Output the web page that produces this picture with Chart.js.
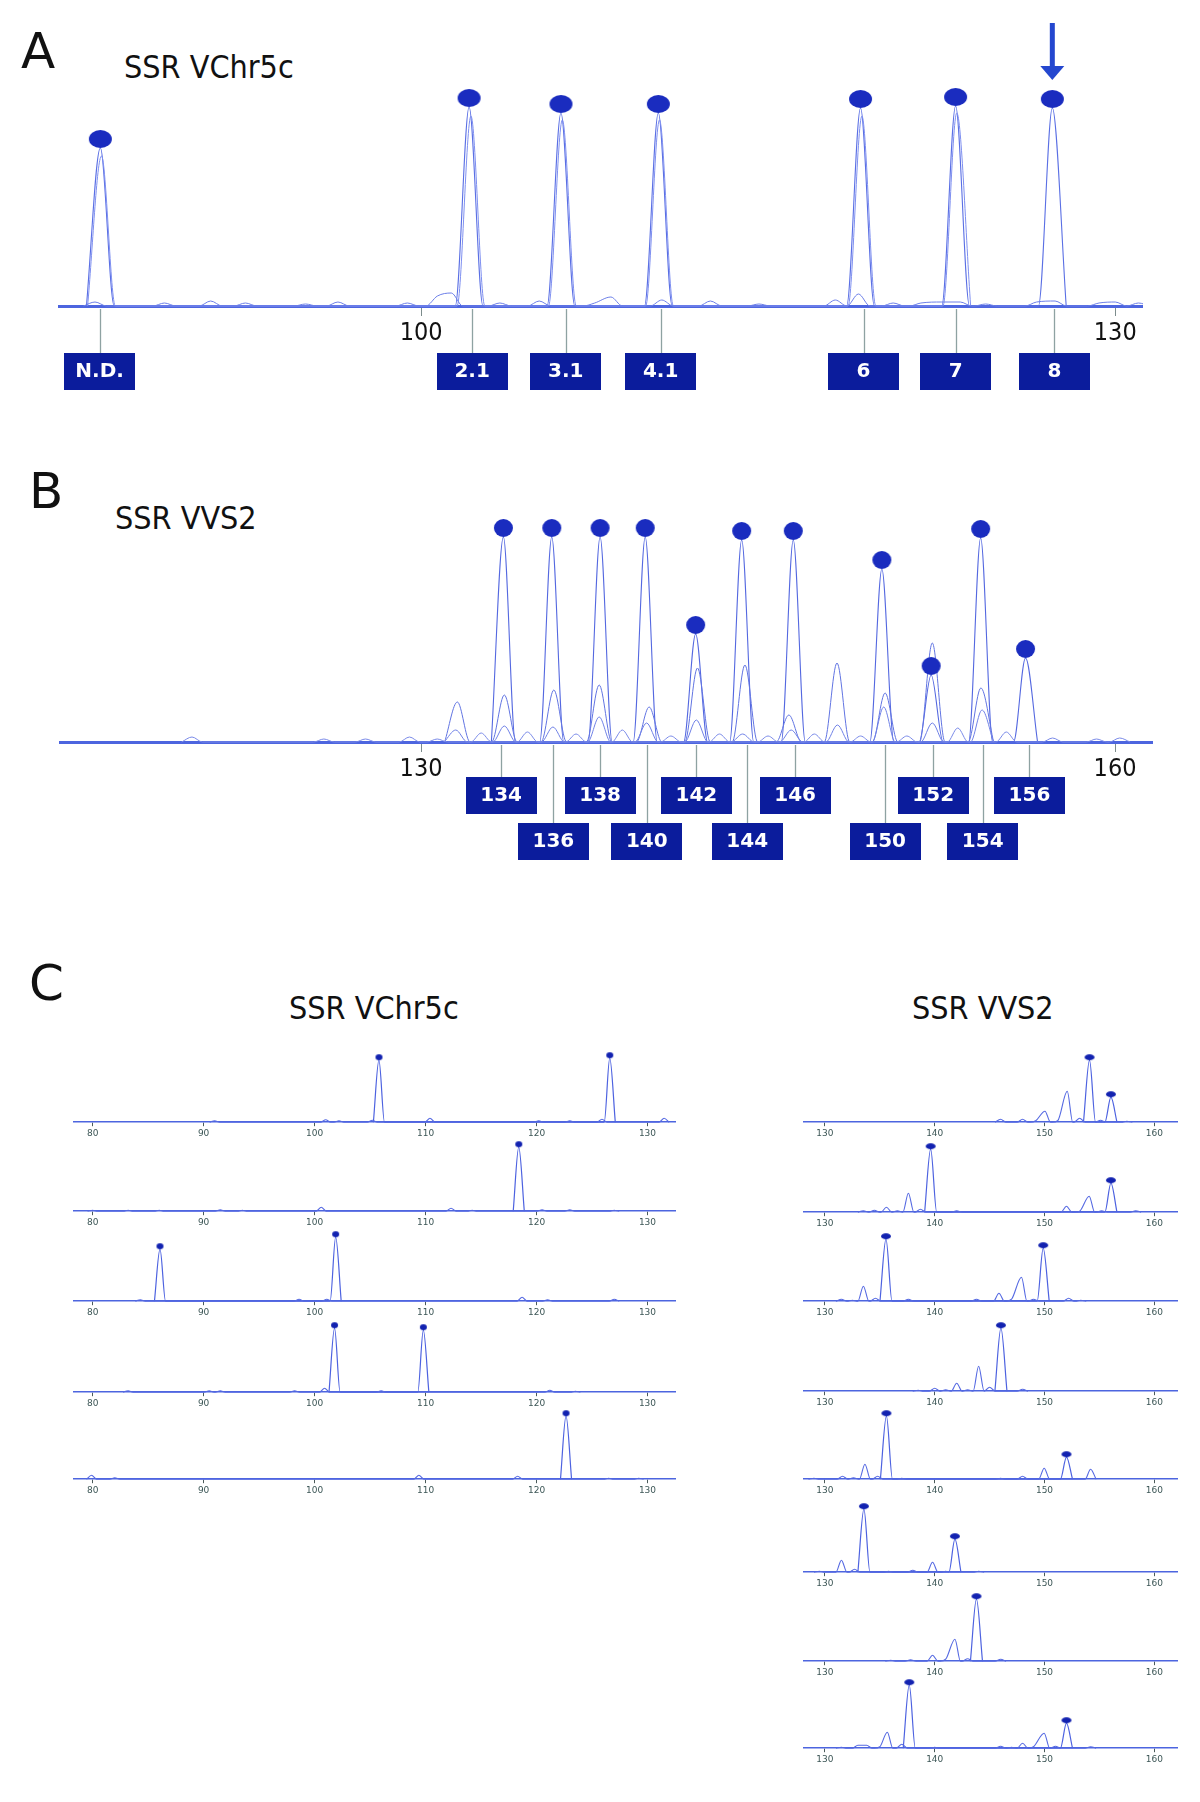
<!DOCTYPE html>
<html><head><meta charset="utf-8">
<script src="https://cdn.jsdelivr.net/npm/chart.js@4.4.0/dist/chart.umd.min.js"></script>
<style>
html,body{margin:0;padding:0;background:#fff;}
body{width:1200px;height:1802px;position:relative;overflow:hidden;}
.t{position:absolute;white-space:nowrap;line-height:1;color:#111;}
.letter{font-family:"DejaVu Sans",sans-serif;font-size:50px;}
.title{font-family:"DejaVu Sans Condensed","DejaVu Sans",sans-serif;font-size:32px;}
</style></head>
<body>
<div class="t letter" style="left:21px;top:26px">A</div>
<div class="t title" style="left:124px;top:51px">SSR VChr5c</div>
<div class="t letter" style="left:29px;top:466px">B</div>
<div class="t title" style="left:115px;top:502px">SSR VVS2</div>
<div class="t letter" style="left:29px;top:958px">C</div>
<div class="t title" style="left:289px;top:992px">SSR VChr5c</div>
<div class="t title" style="left:912px;top:992px">SSR VVS2</div>
<script>
// ---------------- DATA ----------------
// Panel A (SSR VChr5c overlay): [size bp, peak height]
const xRangeA = [84.3, 131.2];
const ticksA = [100, 130];
const labelsA = ['N.D.', '2.1', '3.1', '4.1', '6', '7', '8'];
const binsA = [86.1, 102.2, 106.25, 110.35, 119.12, 123.1, 127.37];
const peaksA_main = [[86.13,158],[102.07,199],[106.04,193],[110.25,193],[118.99,198],[123.1,200],[127.28,198]];
const peaksA_rep = [[86.18,150],[102.15,190],[106.1,186],[110.3,186],[119.05,190],[123.15,193]];
const peaksA_minor = [[85.9,4],[88.9,3],[90.9,5],[92.4,3],[95,2],[96.4,4],[99.4,3],[100.7,10],[101.3,13],[103.4,3],[105.1,5],[107.5,3],[108.2,9],[110.4,6],[112.5,5],[114.6,2],[117.9,6],[118.9,12],[120.4,3],[121.6,3],[122.5,4],[123.3,4],[124.4,2],[126.6,4],[127.4,5],[129.3,3],[130.0,4],[131.0,3]];
const arrowAllele = '8';

// Panel B (SSR VVS2 overlay)
const xRangeB = [114.35, 161.64];
const ticksB = [130, 160];
const labelsB = ['134','136','138','140','142','144','146','150','152','154','156'];
const binsB = [133.46, 135.72, 137.74, 139.76, 141.9, 144.1, 146.17, 150.06, 152.14, 154.28, 156.3];
const peaksB_main = [[133.56,205],[135.65,205],[137.74,205],[139.69,205],[141.87,108],[143.86,202],[146.09,202],[149.92,173],[152.05,67],[154.19,204],[156.13,84]];
const peaksB_sec = [[131.57,40],[133.6,47],[135.74,52],[137.7,57],[139.86,35],[141.95,74],[144.0,77],[145.9,27],[147.98,79],[150.06,49],[152.1,99],[154.2,54]];
const peaksB_ter = [[131.5,12],[133.6,16],[135.7,15],[137.7,25],[139.75,19],[141.9,22],[143.9,8],[146.0,12],[148.0,17],[150.0,35],[152.1,19],[154.25,32]];
const peaksB_noise = [[120.1,5],[125.8,3],[127.6,3],[129.5,5],[130.7,3],[132.6,9],[134.6,10],[136.7,8],[138.7,12],[140.8,6],[142.9,8],[145.0,6],[147.0,8],[149.0,6],[151.0,6],[153.2,14],[155.3,10],[157.3,4],[159.2,3],[160.2,4]];

// Panel C, left column (SSR VChr5c, 5 samples)
const xRangeCL = [78.23, 132.57];
const ticksCL = [80, 90, 100, 110, 120, 130];
const cL1_main = [[105.8,62],[126.6,64]];
const cL1_minor = [[91,1.5],[101,2.5],[102.2,1.5],[105.2,2],[110.4,4],[120.2,1.5],[123,1.5],[125.9,3],[131.5,4]];
const cL2_main = [[118.4,64]];
const cL2_minor = [[80,1],[83.2,1],[86,1],[91.5,1.5],[93.5,1],[100.6,4],[112.3,3],[114.2,1],[120.5,1.5],[123,1.5],[127,1]];
const cL3_main = [[86.07,52],[101.9,64]];
const cL3_minor = [[84.3,1.5],[98.6,2],[101.1,2],[118.7,4],[121,1.5],[127,2]];
const cL4_main = [[101.8,64],[109.8,62]];
const cL4_minor = [[83.2,1.5],[90.5,1.5],[91.5,1.5],[98.2,1.5],[100.9,4],[106,1.5],[121.2,2],[123.5,1]];
const cL5_main = [[122.66,63]];
const cL5_minor = [[79.9,4],[82,1.5],[109.4,4],[118.3,3],[126.5,1],[129.2,1]];

// Panel C, right column (SSR VVS2, 8 samples)
const xRangeCR = [128.0, 162.16];
const ticksCR = [130, 140, 150, 160];
const cR1_main = [[154.1,62],[156.05,25]];
const cR1_minor = [[146,3],[148,3],[149.2,1.5],[150.04,11],[151.2,1.5],[152.07,31],[153.2,4],[155.1,2],[157.5,1]];
const cR2_main = [[139.63,63],[156.05,29]];
const cR2_minor = [[133.5,1.5],[134.5,2],[135.6,5],[136.6,1.5],[137.6,19],[138.7,3],[142,1.5],[152.0,6],[153.2,1],[154.07,16],[155.2,1.5],[158.3,1.5]];
const cR3_main = [[135.56,62],[149.88,53]];
const cR3_minor = [[131.5,2],[132.5,1],[133.5,15],[134.6,3],[137.6,2],[143.8,2],[145.85,8],[147,2],[147.9,24],[149,2],[152.2,3],[153.3,1]];
const cR4_main = [[146.03,63]];
const cR4_minor = [[138.5,1],[140,3],[141,1.5],[142,8],[143,1.5],[144,25],[145,4],[148,2]];
const cR5_main = [[135.6,63],[152.0,22]];
const cR5_minor = [[129,1],[131.6,3],[132.6,1.5],[133.64,15],[134.8,3],[137,1],[146,1],[148,3],[149.97,11],[154.2,10]];
const cR6_main = [[133.55,63],[141.84,33]];
const cR6_minor = [[129.5,1],[131.5,12],[132.7,3],[135.8,1],[138,2],[139.8,10],[141,1],[144,1]];
const cR7_main = [[143.8,62]];
const cR7_minor = [[136,1],[137.8,1.5],[139.8,6],[141.0,2],[141.84,22],[143,2.5],[146,2]];
const cR8_main = [[137.68,63],[152.0,25]];
const cR8_minor = [[131.5,1],[133,3],[133.8,3],[135,1.5],[135.68,16],[137,4],[140,1],[146,2],[147,1],[148,5],[149,1.5],[149.97,15],[151,2],[154.2,1.5]];

// ---------------- BUILD ----------------
const cLeftMain = [cL1_main, cL2_main, cL3_main, cL4_main, cL5_main];
const cLeftMinor = [cL1_minor, cL2_minor, cL3_minor, cL4_minor, cL5_minor];
const cRightMain = [cR1_main, cR2_main, cR3_main, cR4_main, cR5_main, cR6_main, cR7_main, cR8_main];
const cRightMinor = [cR1_minor, cR2_minor, cR3_minor, cR4_minor, cR5_minor, cR6_minor, cR7_minor, cR8_minor];

// each peak: baseline foot, apex, baseline foot (feet merged when peaks are close)
function trace(peaks, w) {
  const s = peaks.slice().sort((a, b) => a[0] - b[0]);
  const pts = [];
  s.forEach(([x, h], i) => {
    const prev = s[i - 1], next = s[i + 1];
    if (!prev || prev[0] + w <= x - w) pts.push({ x: x - w, y: 0 });
    pts.push({ x: x, y: h });
    if (!next || x + w <= next[0] - w) pts.push({ x: x + w, y: 0 });
  });
  return pts;
}

function makeDot(w, h, color) {
  const c = document.createElement('canvas');
  c.width = Math.ceil(w) + 2; c.height = Math.ceil(h) * 2 + 2;
  const g = c.getContext('2d');
  g.fillStyle = color;
  g.beginPath();
  g.ellipse(c.width / 2, c.height / 2 - h / 2, w / 2, h / 2, 0, 0, Math.PI * 2);
  g.fill();
  return c;
}

function build(o) {
  const wrap = document.createElement('div');
  wrap.style.position = 'absolute';
  wrap.style.left = '0px'; wrap.style.top = '0px';
  document.body.appendChild(wrap);
  const cv = document.createElement('canvas');
  cv.width = o.width; cv.height = o.height;
  cv.style.width = o.width + 'px'; cv.style.height = o.height + 'px';
  cv.style.display = 'block';
  wrap.appendChild(cv);
  const datasets = o.traces.map(t => ({
    data: trace(t.peaks, t.w), borderColor: t.color, borderWidth: t.lw,
    pointRadius: 0, cubicInterpolationMode: 'monotone', fill: false, clip: false, order: 2
  }));
  datasets.push({
    data: o.dots.map(([x, y]) => ({ x: x, y: y })), showLine: false,
    pointStyle: o.dotImg, pointRadius: 3, clip: false, order: 1
  });
  const chart = new Chart(cv, {
    type: 'line',
    data: { datasets: datasets },
    options: {
      responsive: false, animation: false, devicePixelRatio: 1, events: [],
      layout: { autoPadding: false, padding: { left: 0, right: 0, top: 0, bottom: o.bottomPad } },
      plugins: { legend: { display: false }, tooltip: { enabled: false } },
      scales: {
        x: {
          type: 'linear', min: o.xRange[0], max: o.xRange[1],
          afterBuildTicks: s => { s.ticks = o.ticks.map(v => ({ value: v })); },
          ticks: { autoSkip: false, maxRotation: 0, padding: o.tickPad, color: o.tickColor, font: o.tickFont },
          grid: { drawOnChartArea: false, drawTicks: true, tickLength: o.tickLen, color: o.tickMark, lineWidth: 1 },
          border: { display: true, color: o.axisColor, width: o.axisWidth }
        },
        y: { display: false, min: 0, max: 100 }
      }
    },
    plugins: o.plugins || []
  });
  const ca = chart.chartArea;
  chart.options.scales.y.max = ca.bottom - ca.top;
  chart.update();
  wrap.style.left = (o.left - ca.left) + 'px';
  wrap.style.top = (o.baseline - ca.bottom) + 'px';
  return chart;
}

function binPlugin(bins, names, rowOffsets) {
  return {
    id: 'bins',
    afterDraw(chart) {
      const ctx = chart.ctx, xs = chart.scales.x, base = chart.chartArea.bottom;
      ctx.save();
      ctx.strokeStyle = '#8ea2a2'; ctx.lineWidth = 1.3;
      bins.forEach((b, i) => {
        const px = Math.round(xs.getPixelForValue(b)) + 0.5;
        const top = base + rowOffsets[i % rowOffsets.length];
        ctx.beginPath(); ctx.moveTo(px, base + 3); ctx.lineTo(px, top); ctx.stroke();
      });
      bins.forEach((b, i) => {
        const px = xs.getPixelForValue(b);
        const top = base + rowOffsets[i % rowOffsets.length];
        ctx.fillStyle = '#0b1c9c';
        ctx.fillRect(Math.round(px - 35.5), top, 71, 37);
        ctx.fillStyle = '#ffffff';
        ctx.font = 'bold 20px "DejaVu Sans"';
        ctx.textAlign = 'center'; ctx.textBaseline = 'middle';
        ctx.fillText(names[i], px, top + 19);
      });
      ctx.restore();
    }
  };
}

const arrowPlugin = {
  id: 'arrow',
  afterDraw(chart) {
    const idx = labelsA.indexOf(arrowAllele);
    const px = chart.scales.x.getPixelForValue(peaksA_main[idx][0]);
    const base = chart.chartArea.bottom;
    const ctx = chart.ctx;
    ctx.save();
    ctx.fillStyle = '#2447cf';
    ctx.fillRect(px - 2.5, base - 283, 5, 45);
    ctx.beginPath();
    ctx.moveTo(px - 12, base - 240);
    ctx.lineTo(px + 12, base - 240);
    ctx.lineTo(px, base - 226);
    ctx.closePath(); ctx.fill();
    ctx.restore();
  }
};

const bigTickFont = { family: '"DejaVu Sans Condensed", "DejaVu Sans", sans-serif', size: 25 };
const smallTickFont = { family: '"DejaVu Sans", sans-serif', size: 9 };

// Panel A
build({
  left: 58, baseline: 306, width: 1085, height: 400, bottomPad: 50,
  xRange: xRangeA, ticks: ticksA, tickPad: 2, tickLen: 10,
  tickColor: '#111', tickMark: '#7c8c8c', tickFont: bigTickFont,
  axisColor: '#4d65df', axisWidth: 3,
  traces: [
    { peaks: peaksA_minor, w: 0.5, color: '#6c7fe8', lw: 1 },
    { peaks: peaksA_rep, w: 0.6, color: '#7e8ff0', lw: 1 },
    { peaks: peaksA_main, w: 0.6, color: '#5a6fe4', lw: 1.1 }
  ],
  dots: peaksA_main, dotImg: makeDot(23, 18, '#1a2cbf'),
  plugins: [binPlugin(binsA, labelsA, [47]), arrowPlugin]
});

// Panel B
build({
  left: 59, baseline: 742, width: 1094, height: 380, bottomPad: 80,
  xRange: xRangeB, ticks: ticksB, tickPad: 2, tickLen: 10,
  tickColor: '#111', tickMark: '#7c8c8c', tickFont: bigTickFont,
  axisColor: '#4d65df', axisWidth: 3,
  traces: [
    { peaks: peaksB_noise, w: 0.45, color: '#7a8ae8', lw: 1 },
    { peaks: peaksB_ter, w: 0.5, color: '#6f80e6', lw: 1 },
    { peaks: peaksB_sec, w: 0.55, color: '#6174e2', lw: 1 },
    { peaks: peaksB_main, w: 0.52, color: '#5468e0', lw: 1.1 }
  ],
  dots: peaksB_main, dotImg: makeDot(19, 18, '#1a2cbf'),
  plugins: [binPlugin(binsB, labelsB, [35, 81])]
});

// Panel C
const baseCL = [1122, 1211, 1301, 1392, 1479];
const baseCR = [1122, 1212, 1301, 1391, 1479, 1572, 1661, 1748];
const dotCL = makeDot(7, 6, '#1222b0');
const dotCR = makeDot(10, 6, '#1222b0');
cLeftMain.forEach((m, i) => build({
  left: 72.6, baseline: baseCL[i], width: 603, height: 100, bottomPad: 2,
  xRange: xRangeCL, ticks: ticksCL, tickPad: 2, tickLen: 4,
  tickColor: '#3c5656', tickMark: '#4a5a5a', tickFont: smallTickFont,
  axisColor: '#4d65df', axisWidth: 1.6,
  traces: [
    { peaks: cLeftMinor[i], w: 0.45, color: '#5569e2', lw: 1.1 },
    { peaks: m, w: 0.5, color: '#4d62e0', lw: 1.2 }
  ],
  dots: m, dotImg: dotCL
}));
cRightMain.forEach((m, i) => build({
  left: 803, baseline: baseCR[i], width: 375, height: 100, bottomPad: 2,
  xRange: xRangeCR, ticks: ticksCR, tickPad: 2, tickLen: 4,
  tickColor: '#3c5656', tickMark: '#4a5a5a', tickFont: smallTickFont,
  axisColor: '#4d65df', axisWidth: 1.6,
  traces: [
    { peaks: cRightMinor[i], w: 0.5, color: '#5569e2', lw: 1.1 },
    { peaks: m, w: 0.55, color: '#4d62e0', lw: 1.2 }
  ],
  dots: m, dotImg: dotCR
}));
</script>
</body></html>
